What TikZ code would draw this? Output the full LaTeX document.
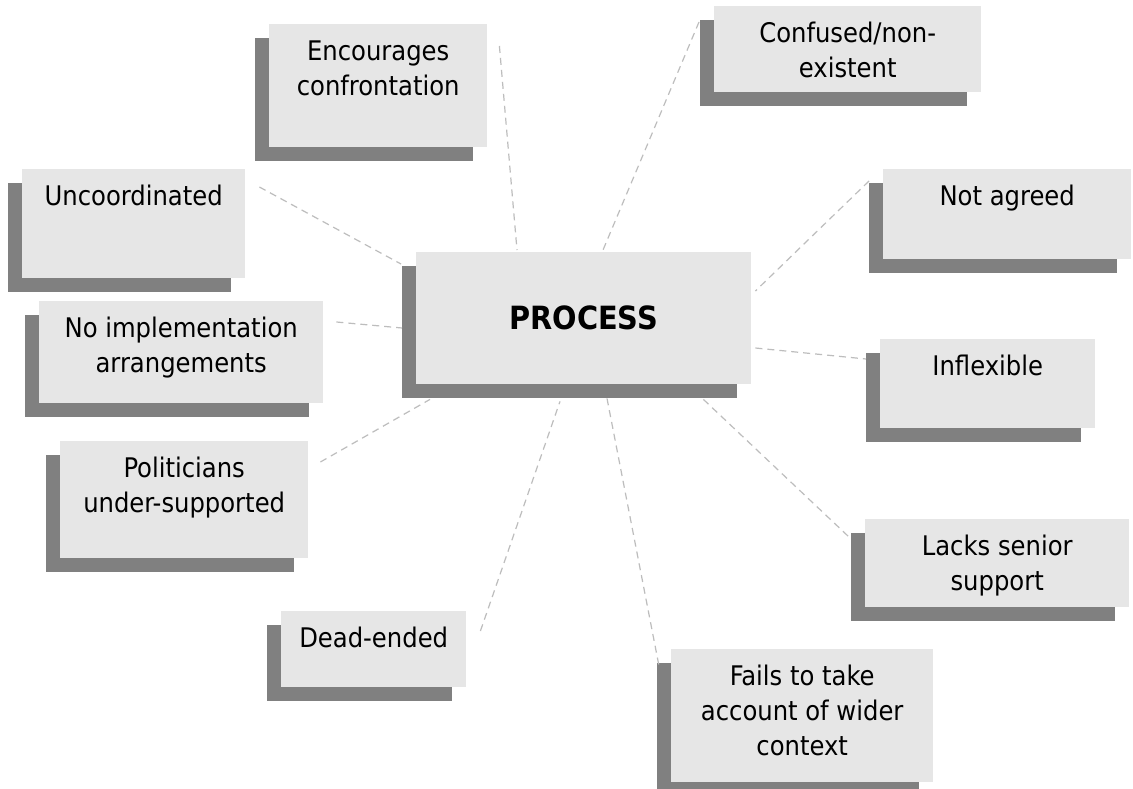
\documentclass[tikz,border=0pt]{standalone}
\usepackage{fontspec}
\setmainfont{DejaVu Sans Condensed}
\usetikzlibrary{shadows}

\definecolor{cardgray}{HTML}{E6E6E6}
\definecolor{shadegray}{HTML}{808080}
\definecolor{linkgray}{HTML}{BDBDBD}

% text of a card: width, height, lines
\newcommand{\cardtext}[3]{\parbox[c][#2pt][t]{#1pt}{\centering\rule{0pt}{36pt}#3}}

\begin{document}
\begin{tikzpicture}[x=1pt,y=-1pt,
					card/.style={fill=cardgray,
						inner sep=0pt,
						anchor=north west,
						font=\fontsize{27}{35}\selectfont,
						general shadow={fill=shadegray,shadow xshift=-14pt,shadow yshift=-14pt}},
					link/.style={draw=linkgray,
						line width=1.2pt,
						dash pattern=on 7pt off 5pt}]

  \fill[white] (0,0) rectangle (1133,789);
  \useasboundingbox (0,0) rectangle (1133,789);

  \node[card,minimum width=335pt,minimum height=132pt,
        font=\fontsize{32}{38}\selectfont\bfseries] (proc) at (416,252) {PROCESS};

  \node[card] (enc)  at (269,24)  {\cardtext{218}{123}{Encourages\\confrontation}};
  \node[card] (conf) at (714,6)   {\cardtext{267}{86}{Confused/non-\\existent}};
  \node[card] (unc)  at (22,169)  {\cardtext{223}{109}{Uncoordinated}};
  \node[card] (agr)  at (883,169) {\cardtext{248}{90}{Not agreed}};
  \node[card] (imp)  at (39,301)  {\cardtext{284}{102}{No implementation\\arrangements}};
  \node[card] (inf)  at (880,339) {\cardtext{215}{89}{Inflexible}};
  \node[card] (pol)  at (60,441)  {\cardtext{248}{117}{Politicians\\under-supported}};
  \node[card] (lack) at (865,519) {\cardtext{264}{88}{Lacks senior\\support}};
  \node[card] (dead) at (281,611) {\cardtext{185}{76}{Dead-ended}};
  \node[card] (fail) at (671,649) {\cardtext{262}{133}{Fails to take\\account of wider\\context}};

  \path[link]
    ([shift={(12,22)}]enc.north east)   -- ([shift={(101,-2)}]proc.north west)
    ([shift={(-15,16)}]conf.north west) -- ([shift={(187,-2)}]proc.north west)
    ([shift={(14,18)}]unc.north east)   -- ([shift={(-15,12)}]proc.north west)
    ([shift={(-14,12)}]agr.north west)  -- ([shift={(4,39)}]proc.north east)
    ([shift={(13,21)}]imp.north east)   -- ([shift={(-14,76)}]proc.north west)
    ([shift={(4,96)}]proc.north east)   -- ([shift={(-14,20)}]inf.north west)
    ([shift={(12,21)}]pol.north east)   -- ([shift={(14,15)}]proc.south west)
    ([shift={(-48,15)}]proc.south east) -- ([shift={(-16,18)}]lack.north west)
    ([shift={(14,20)}]dead.north east)  -- ([shift={(144,17)}]proc.south west)
    ([shift={(191,14)}]proc.south west) -- ([shift={(-12,17)}]fail.north west);
\end{tikzpicture}
\end{document}
